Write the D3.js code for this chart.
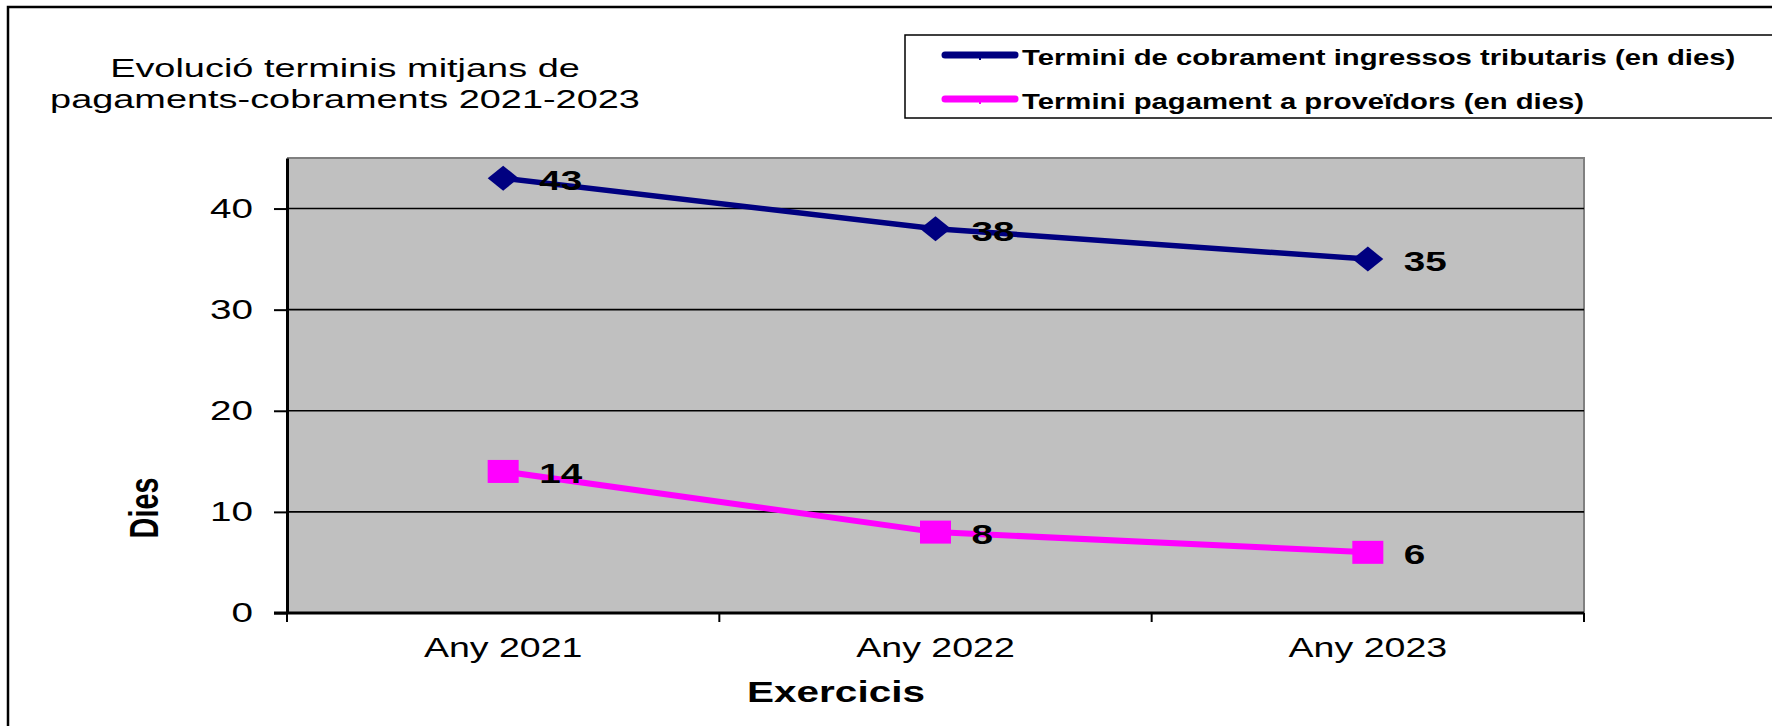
<!DOCTYPE html>
<html><head><meta charset="utf-8">
<script src="https://cdn.jsdelivr.net/npm/d3@7"></script>
<style>
body{margin:0;background:#fff}
svg{display:block}
text{font-family:"Liberation Sans",Arial,sans-serif;fill:#000}
</style>
</head><body>
<svg id="c" width="1772" height="726"></svg>
<script>
// ---- data ----
const categories = ["Any 2021", "Any 2022", "Any 2023"];
const cobrament = [43, 38, 35];
const pagament = [14, 8, 6];
const yTicks = [0, 10, 20, 30, 40];
const seriesNames = ["Termini de cobrament ingressos tributaris (en dies)", "Termini pagament a proveïdors (en dies)"];
const titleLines = ["Evolució terminis mitjans de", "pagaments-cobraments 2021-2023"];
const xTitle = "Exercicis";
const yTitle = "Dies";

// ---- layout ----
const svg = d3.select("#c");
const L = 287, R = 1584, T = 158, B = 613;
const x = d3.scaleBand().domain(categories).range([L, R]);
const y = d3.scaleLinear().domain([0, 45]).range([B, T]);
const cx = c => x(c) + x.bandwidth() / 2;

function stretch(sel, sx) {
  sel.each(function () {
    const w = this.getComputedTextLength();
    d3.select(this).attr("textLength", w * sx).attr("lengthAdjust", "spacingAndGlyphs");
  });
}

// outer frame
svg.append("rect").attr("x", 8).attr("y", 7).attr("width", 1800).attr("height", 800)
  .attr("fill", "none").attr("stroke", "#000").attr("stroke-width", 2.5);

// title
const tt = svg.append("g");
titleLines.forEach((t, i) => {
  tt.append("text").attr("x", 345).attr("y", 77 + i * 31).attr("text-anchor", "middle")
    .attr("font-size", 26.5).text(t);
});
stretch(tt.selectAll("text"), 1.43);

// legend
svg.append("rect").attr("x", 905).attr("y", 35).attr("width", 900).attr("height", 83)
  .attr("fill", "#fff").attr("stroke", "#000").attr("stroke-width", 1.5);
const legColors = ["#000080", "#FF00FF"];
const lg = svg.append("g");
seriesNames.forEach((s, i) => {
  const ly = 55 + i * 44;
  lg.append("line").attr("x1", 945).attr("x2", 1015).attr("y1", ly).attr("y2", ly)
    .attr("stroke", legColors[i]).attr("stroke-width", 7).attr("stroke-linecap", "round");
  lg.append("line").attr("x1", 980).attr("x2", 980).attr("y1", ly).attr("y2", ly + 5)
    .attr("stroke", legColors[i]).attr("stroke-width", 2);
  lg.append("text").attr("x", 1022).attr("y", ly + 10).attr("font-size", 22)
    .attr("font-weight", "bold").text(s);
});
stretch(lg.selectAll("text"), 1.33);

// plot area
svg.append("rect").attr("x", L).attr("y", T).attr("width", R - L).attr("height", B - T)
  .attr("fill", "#C0C0C0");
svg.append("path").attr("d", `M${L},${T}H${R}V${B}`).attr("fill", "none")
  .attr("stroke", "#808080").attr("stroke-width", 2);

// gridlines
svg.append("g").selectAll("line").data(yTicks.filter(v => v > 0)).join("line")
  .attr("x1", L).attr("x2", R).attr("y1", d => y(d)).attr("y2", d => y(d))
  .attr("stroke", "#000").attr("stroke-width", 1.6);

// y axis
const ya = svg.append("g").attr("transform", `translate(${L},0)`)
  .call(d3.axisLeft(y).tickValues(yTicks).tickSize(13).tickSizeOuter(0).tickPadding(21));
ya.select(".domain").attr("stroke", "#000").attr("stroke-width", 3);
ya.selectAll(".tick line").attr("stroke", "#000").attr("stroke-width", 2);
ya.selectAll("text").attr("font-size", 28).attr("font-family", null).attr("fill", "#000");
stretch(ya.selectAll("text"), 1.38);

// x axis
const xa = svg.append("g").attr("transform", `translate(0,${B})`)
  .call(d3.axisBottom(x).tickSize(0).tickSizeOuter(0).tickPadding(24));
xa.select(".domain").remove();
xa.selectAll("text").attr("font-size", 28).attr("font-family", null).attr("fill", "#000");
stretch(xa.selectAll("text"), 1.34);
svg.append("line").attr("x1", L - 13).attr("x2", R).attr("y1", B).attr("y2", B)
  .attr("stroke", "#000").attr("stroke-width", 3);
const bounds = categories.map(c => x(c)).concat([x.range()[1]]);
svg.append("g").selectAll("line").data(bounds).join("line")
  .attr("x1", d => d).attr("x2", d => d).attr("y1", B).attr("y2", B + 9)
  .attr("stroke", "#000").attr("stroke-width", 2);

// axis titles
const xt = svg.append("text").attr("x", 836).attr("y", 702).attr("text-anchor", "middle")
  .attr("font-size", 30).attr("font-weight", "bold").text(xTitle);
stretch(xt, 1.35);
const yt = svg.append("text").attr("transform", "translate(158,508) rotate(-90)")
  .attr("text-anchor", "middle").attr("font-size", 40).attr("font-weight", "bold").text(yTitle);
stretch(yt, 0.72);

// series
const line = d3.line().x((d, i) => cx(categories[i])).y(d => y(d));
svg.append("path").datum(cobrament).attr("d", line).attr("fill", "none")
  .attr("stroke", "#000080").attr("stroke-width", 5.5);
svg.append("path").datum(pagament).attr("d", line).attr("fill", "none")
  .attr("stroke", "#FF00FF").attr("stroke-width", 6);

svg.append("g").selectAll("path").data(cobrament).join("path")
  .attr("transform", (d, i) => `translate(${cx(categories[i])},${y(d)})`)
  .attr("d", "M-15.5,0L0,-12.5L15.5,0L0,12.5Z").attr("fill", "#000080");
svg.append("g").selectAll("rect").data(pagament).join("rect")
  .attr("x", (d, i) => cx(categories[i]) - 15.5).attr("y", d => y(d) - 11.5)
  .attr("width", 31).attr("height", 23).attr("fill", "#FF00FF");

// data labels
const dl = svg.append("g");
[cobrament, pagament].forEach(arr => {
  arr.forEach((v, i) => {
    dl.append("text").attr("x", cx(categories[i]) + 36).attr("y", y(v) + 12)
      .attr("font-size", 28).attr("font-weight", "bold").text(v);
  });
});
stretch(dl.selectAll("text"), 1.38);
</script>
</body></html>
